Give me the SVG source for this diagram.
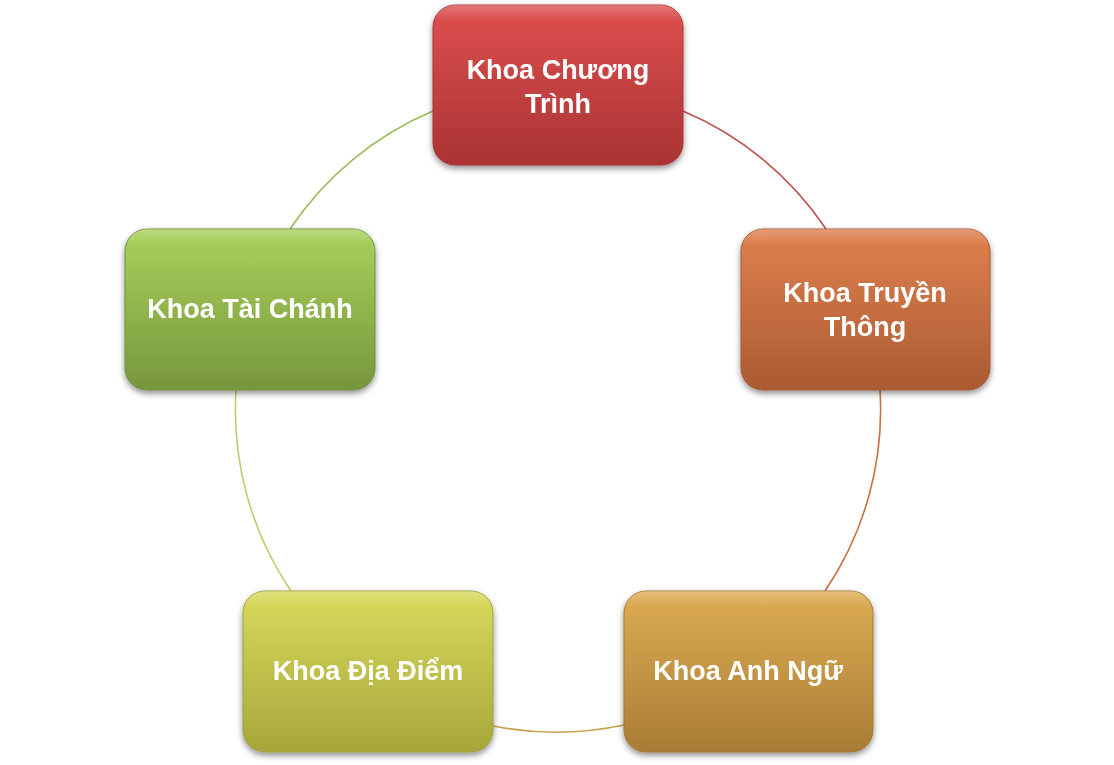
<svg xmlns="http://www.w3.org/2000/svg" width="1114" height="765" viewBox="0 0 1114 765">
<defs>
<linearGradient id="gRed" x1="0" y1="0" x2="0" y2="1"><stop offset="0" stop-color="#dd4747"/><stop offset="1" stop-color="#aa3333"/></linearGradient>
<linearGradient id="gOrange" x1="0" y1="0" x2="0" y2="1"><stop offset="0" stop-color="#de7b46"/><stop offset="1" stop-color="#ab5a33"/></linearGradient>
<linearGradient id="gGold" x1="0" y1="0" x2="0" y2="1"><stop offset="0" stop-color="#dca84b"/><stop offset="1" stop-color="#a97d36"/></linearGradient>
<linearGradient id="gYellow" x1="0" y1="0" x2="0" y2="1"><stop offset="0" stop-color="#d6d853"/><stop offset="1" stop-color="#a6a63b"/></linearGradient>
<linearGradient id="gGreen" x1="0" y1="0" x2="0" y2="1"><stop offset="0" stop-color="#a5cf55"/><stop offset="1" stop-color="#77963c"/></linearGradient>
<linearGradient id="gloss" x1="0" y1="0" x2="0" y2="1"><stop offset="0" stop-color="#fff" stop-opacity="0.25"/><stop offset="0.1" stop-color="#fff" stop-opacity="0.04"/><stop offset="1" stop-color="#fff" stop-opacity="0"/></linearGradient>
<filter id="sh" x="-10%" y="-10%" width="120%" height="125%"><feGaussianBlur in="SourceAlpha" stdDeviation="3"/><feOffset dy="3"/><feComponentTransfer><feFuncA type="linear" slope="0.45"/></feComponentTransfer><feMerge><feMergeNode/><feMergeNode in="SourceGraphic"/></feMerge></filter>
</defs>
<style>
.lbl{font-family:"Liberation Sans",Arial,sans-serif;font-weight:bold;font-size:27px;fill:#fff;text-anchor:middle}
.arc{fill:none;stroke-width:1.6}
.box{stroke-width:1}
</style>
<rect width="1114" height="765" fill="#fff"/>
<g id="connectors">
<path class="arc" stroke="#c0504d" d="M683,111 A323,323 0 0 1 826,229"/>
<path class="arc" stroke="#c8703f" d="M880,390 A323,323 0 0 1 825,591"/>
<path class="arc" stroke="#c8a04a" d="M624,725 A323,323 0 0 1 493,726"/>
<path class="arc" stroke="#c9c96a" d="M291,591 A323,323 0 0 1 236,390"/>
<path class="arc" stroke="#9bbb59" d="M290,229 A323,323 0 0 1 433,111"/>
</g>
<g id="node-chuong-trinh" filter="url(#sh)">
<rect x="433" y="5" width="250" height="160" rx="22" fill="url(#gRed)" stroke="#a33" class="box"/>
<rect x="433" y="5" width="250" height="160" rx="22" fill="url(#gloss)"/>
<text class="lbl" x="558" y="79">Khoa Chương<tspan x="558" dy="34">Trình</tspan></text>
</g>
<g id="node-truyen-thong" filter="url(#sh)">
<rect x="741" y="229" width="249" height="161" rx="22" fill="url(#gOrange)" stroke="#a55630" class="box"/>
<rect x="741" y="229" width="249" height="161" rx="22" fill="url(#gloss)"/>
<text class="lbl" x="865" y="302">Khoa Truyền<tspan x="865" dy="34">Thông</tspan></text>
</g>
<g id="node-anh-ngu" filter="url(#sh)">
<rect x="624" y="591" width="249" height="161" rx="22" fill="url(#gGold)" stroke="#a37830" class="box"/>
<rect x="624" y="591" width="249" height="161" rx="22" fill="url(#gloss)"/>
<text class="lbl" x="748" y="680">Khoa Anh Ngữ</text>
</g>
<g id="node-dia-diem" filter="url(#sh)">
<rect x="243" y="591" width="250" height="161" rx="22" fill="url(#gYellow)" stroke="#a0a036" class="box"/>
<rect x="243" y="591" width="250" height="161" rx="22" fill="url(#gloss)"/>
<text class="lbl" x="368" y="680">Khoa Địa Điểm</text>
</g>
<g id="node-tai-chanh" filter="url(#sh)">
<rect x="125" y="229" width="250" height="161" rx="22" fill="url(#gGreen)" stroke="#718f38" class="box"/>
<rect x="125" y="229" width="250" height="161" rx="22" fill="url(#gloss)"/>
<text class="lbl" x="250" y="318">Khoa Tài Chánh</text>
</g>
</svg>
